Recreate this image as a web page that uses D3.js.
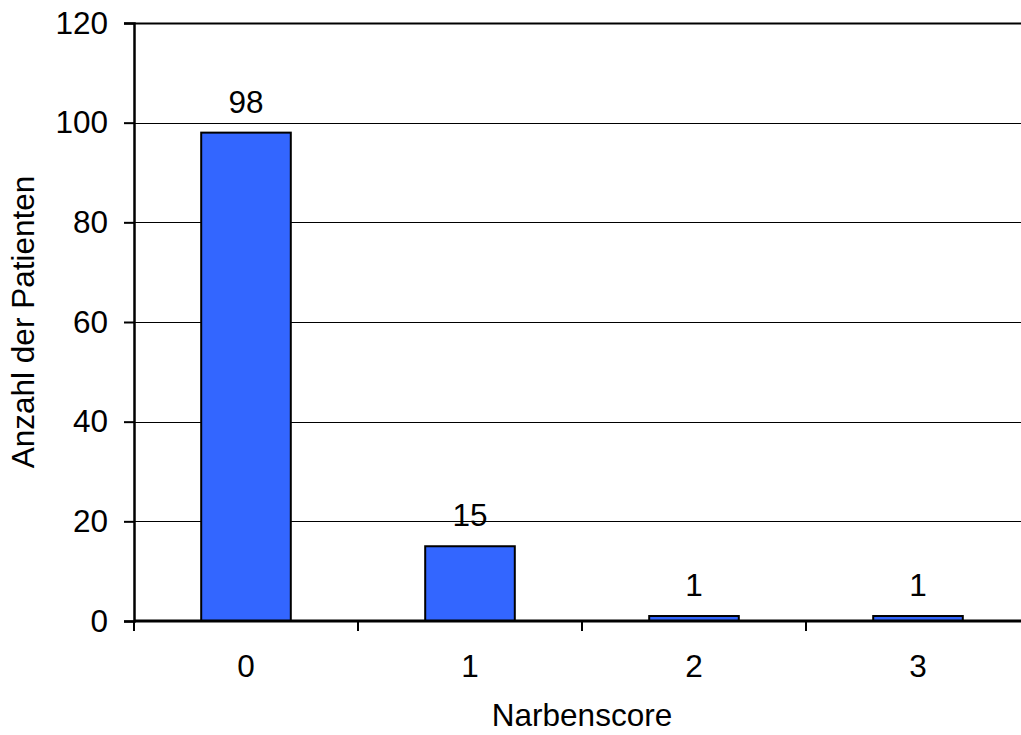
<!DOCTYPE html>
<html>
<head>
<meta charset="utf-8">
<script src="https://cdn.jsdelivr.net/npm/d3@7"></script>
<style>
  html, body { margin: 0; padding: 0; background: #fff; }
  svg { display: block; }
  text { font-family: "Liberation Sans", Arial, sans-serif; fill: #000; }
</style>
</head>
<body>
<svg id="chart" width="1021" height="735"></svg>
<script>
// Narbenscore distribution
const categories = ["0", "1", "2", "3"];
const patients = [98, 15, 1, 1];
const yTicks = [0, 20, 40, 60, 80, 100, 120];

const xTitle = "Narbenscore";
const yTitle = "Anzahl der Patienten";

const svg = d3.select("#chart");
const W = 1021, H = 735;
const plot = { left: 134, right: 1030, top: 23, bottom: 621 };
const fontSize = 31.5;

const x = d3.scaleBand().domain(categories).range([plot.left, plot.right]).paddingInner(0).paddingOuter(0);
const y = d3.scaleLinear().domain([0, 120]).range([plot.bottom, plot.top]);

// horizontal gridlines
svg.append("g")
  .selectAll("line")
  .data(yTicks.filter(d => d > 0))
  .join("line")
  .attr("x1", plot.left).attr("x2", W)
  .attr("y1", d => Math.round(y(d)) + 0.5).attr("y2", d => Math.round(y(d)) + 0.5)
  .attr("stroke", "#000")
  .attr("stroke-width", d => d === 120 ? 2 : 1);

// bars
const barW = x.bandwidth() * 0.4;
svg.append("g")
  .selectAll("rect")
  .data(categories.map((c, i) => ({ c, v: patients[i] })))
  .join("rect")
  .attr("x", d => x(d.c) + (x.bandwidth() - barW) / 2)
  .attr("y", d => y(d.v))
  .attr("width", barW)
  .attr("height", d => y(0) - y(d.v))
  .attr("fill", "#3366FF")
  .attr("stroke", "#000")
  .attr("stroke-width", 2);

// value labels
svg.append("g")
  .selectAll("text")
  .data(categories.map((c, i) => ({ c, v: patients[i] })))
  .join("text")
  .attr("x", d => x(d.c) + x.bandwidth() / 2)
  .attr("y", d => y(d.v) - 20)
  .attr("text-anchor", "middle")
  .attr("font-size", fontSize)
  .text(d => d.v);

// y axis
const yAxis = d3.axisLeft(y).tickValues(yTicks).tickSize(10).tickPadding(16).tickFormat(d3.format("d"));
const gy = svg.append("g").attr("transform", `translate(${plot.left},0)`).call(yAxis);
gy.select(".domain").attr("stroke", "#000").attr("stroke-width", 2.5);
gy.selectAll(".tick line").attr("stroke", "#000").attr("stroke-width", 2);
gy.selectAll(".tick text").attr("font-size", fontSize).attr("font-family", "Liberation Sans, Arial, sans-serif").attr("fill", "#000");

// x axis with ticks on band boundaries
const gx = svg.append("g").attr("transform", `translate(0,${plot.bottom})`);
gx.append("line")
  .attr("x1", plot.left).attr("x2", W)
  .attr("y1", 0).attr("y2", 0)
  .attr("stroke", "#000").attr("stroke-width", 3);
const boundaries = categories.map(c => x(c)).concat([x(categories[categories.length - 1]) + x.bandwidth()]);
gx.selectAll("line.tk")
  .data(boundaries)
  .join("line")
  .attr("class", "tk")
  .attr("x1", d => d).attr("x2", d => d)
  .attr("y1", 0).attr("y2", 10)
  .attr("stroke", "#000").attr("stroke-width", 2);
gx.selectAll("text")
  .data(categories)
  .join("text")
  .attr("x", d => x(d) + x.bandwidth() / 2)
  .attr("y", 56)
  .attr("text-anchor", "middle")
  .attr("font-size", fontSize)
  .text(d => d);

// axis titles
svg.append("text")
  .attr("x", 582)
  .attr("y", 726)
  .attr("text-anchor", "middle")
  .attr("font-size", fontSize)
  .text(xTitle);

svg.append("text")
  .attr("transform", `translate(34,${(plot.top + plot.bottom) / 2}) rotate(-90)`)
  .attr("text-anchor", "middle")
  .attr("font-size", fontSize)
  .text(yTitle);
</script>
</body>
</html>
